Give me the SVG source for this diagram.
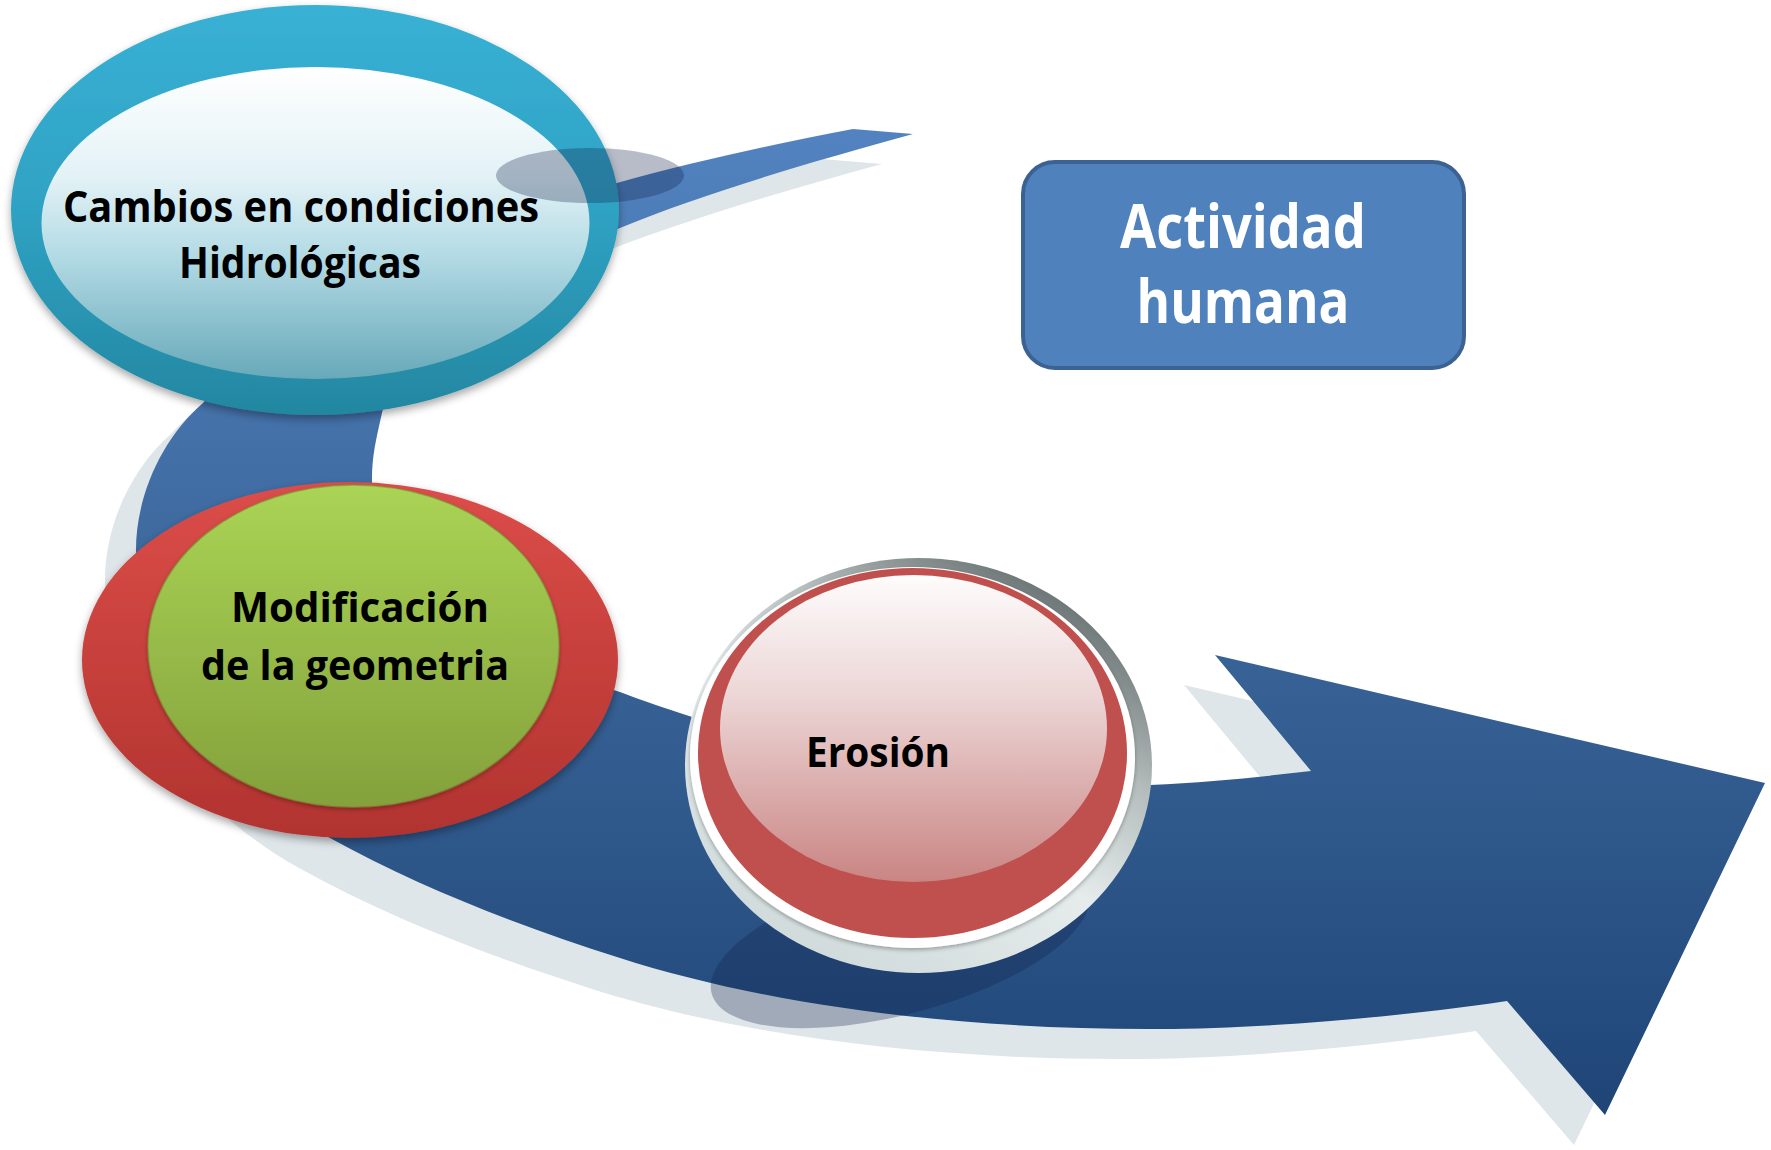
<svg xmlns="http://www.w3.org/2000/svg" width="1771" height="1150" viewBox="0 0 1771 1150">
  <style>
    .lbl { font-family: "Open Sans", Lato, "Liberation Sans", sans-serif; font-weight: bold; fill: #000000; text-anchor: middle; }
    .lblw { font-family: "Open Sans", Lato, "Liberation Sans", sans-serif; font-weight: bold; fill: #ffffff; text-anchor: middle; }
    .reflect { fill: #0f2048; fill-opacity: 0.3; }
  </style>
  <defs>
    <linearGradient id="bandG" gradientUnits="userSpaceOnUse" x1="0" y1="129" x2="0" y2="1115">
      <stop offset="0" stop-color="#5283c0"/>
      <stop offset="0.5" stop-color="#3a6599"/>
      <stop offset="1" stop-color="#1f4577"/>
    </linearGradient>
    <linearGradient id="ringBlue" x1="0" y1="0" x2="0" y2="1">
      <stop offset="0" stop-color="#38b1d5"/>
      <stop offset="0.5" stop-color="#2fa2c3"/>
      <stop offset="1" stop-color="#2387a1"/>
    </linearGradient>
    <linearGradient id="innerBlue" x1="0" y1="0" x2="0" y2="1">
      <stop offset="0" stop-color="#ffffff"/>
      <stop offset="0.35" stop-color="#e3f2f6"/>
      <stop offset="0.6" stop-color="#b4dbe5"/>
      <stop offset="1" stop-color="#68a9b9"/>
    </linearGradient>
    <linearGradient id="redG" x1="0" y1="0" x2="0" y2="1">
      <stop offset="0" stop-color="#dc4d49"/>
      <stop offset="1" stop-color="#b1332f"/>
    </linearGradient>
    <linearGradient id="greenG" x1="0" y1="0" x2="0" y2="1">
      <stop offset="0" stop-color="#aad455"/>
      <stop offset="1" stop-color="#84a13c"/>
    </linearGradient>
    <linearGradient id="frameG" x1="0.85" y1="0.05" x2="0.2" y2="1">
      <stop offset="0" stop-color="#5e6767"/>
      <stop offset="0.3" stop-color="#b4bcbc"/>
      <stop offset="0.55" stop-color="#e6ecec"/>
      <stop offset="1" stop-color="#cdd8d8"/>
    </linearGradient>
    <linearGradient id="pinkG" x1="0" y1="0" x2="0" y2="1">
      <stop offset="0" stop-color="#fefcfc"/>
      <stop offset="0.4" stop-color="#ecd5d5"/>
      <stop offset="1" stop-color="#c98583"/>
    </linearGradient>
    <filter id="shadow" x="-10%" y="-10%" width="120%" height="130%">
      <feDropShadow dx="0" dy="4" stdDeviation="4" flood-color="#000000" flood-opacity="0.35"/>
    </filter>
    <filter id="shadowSoft" x="-10%" y="-10%" width="120%" height="130%">
      <feDropShadow dx="0" dy="2" stdDeviation="2" flood-color="#000000" flood-opacity="0.3"/>
    </filter>
  </defs>

  <g id="connectors">
    <path id="swoosh-shadow" fill="#dfe6e9" transform="translate(-31,30)" d="M 853,129 L 913,134 C 800,165 700,195 620,228 C 520,270 395,340 382,413 C 376,440 372,455 372,480 C 372,580 480,650 620,692 C 700,722 900,790 1150,785 C 1210,782 1260,777 1311,771 L 1215,655 L 1765,783 L 1605,1115 L 1507,1001 C 1400,1017 1260,1029 1160,1029 C 950,1030 760,1003 620,958 C 520,926 420,888 330,838 C 230,782 138,680 136,553 C 135,500 160,440 203,403 C 250,350 450,222 617,183 C 700,160 780,143 853,129 Z"/>
    <path id="swoosh" fill="url(#bandG)" d="M 853,129 L 913,134 C 800,165 700,195 620,228 C 520,270 395,340 382,413 C 376,440 372,455 372,480 C 372,580 480,650 620,692 C 700,722 900,790 1150,785 C 1210,782 1260,777 1311,771 L 1215,655 L 1765,783 L 1605,1115 L 1507,1001 C 1400,1017 1260,1029 1160,1029 C 950,1030 760,1003 620,958 C 520,926 420,888 330,838 C 230,782 138,680 136,553 C 135,500 160,440 203,403 C 250,350 450,222 617,183 C 700,160 780,143 853,129 Z"/>
  </g>

  <g id="node-cambios">
    <ellipse cx="315" cy="210" rx="304" ry="205" fill="url(#ringBlue)" filter="url(#shadow)"/>
    <ellipse cx="315.5" cy="223" rx="274" ry="156" fill="url(#innerBlue)"/>
    <text class="lbl" x="301" y="222" font-size="43" textLength="476" lengthAdjust="spacingAndGlyphs">Cambios en condiciones</text>
    <text class="lbl" x="300" y="278" font-size="43" textLength="242" lengthAdjust="spacingAndGlyphs">Hidrológicas</text>
  </g>
  <ellipse id="reflection-top" class="reflect" cx="590" cy="175.5" rx="94" ry="27.5"/>

  <g id="node-modificacion">
    <ellipse cx="350" cy="660" rx="268" ry="178" fill="url(#redG)" filter="url(#shadow)"/>
    <ellipse cx="353.5" cy="646" rx="205.5" ry="161" fill="url(#greenG)" stroke="#7a9636" stroke-opacity="0.6" stroke-width="1.5" filter="url(#shadowSoft)"/>
    <text class="lbl" x="360" y="622" font-size="42" textLength="258" lengthAdjust="spacingAndGlyphs">Modificación</text>
    <text class="lbl" x="355" y="680" font-size="42" textLength="308" lengthAdjust="spacingAndGlyphs">de la geometria</text>
  </g>

  <ellipse id="reflection-erosion" class="reflect" cx="900" cy="943" rx="195" ry="71" transform="rotate(-15 900 943)"/>

  <g id="node-erosion">
    <ellipse cx="918.5" cy="765.5" rx="233.5" ry="207.5" fill="url(#frameG)"/>
    <ellipse cx="912.5" cy="757.5" rx="222.5" ry="190.5" fill="#ffffff" filter="url(#shadowSoft)"/>
    <ellipse cx="912.5" cy="753" rx="214.5" ry="185" fill="#c0504d"/>
    <ellipse cx="913.5" cy="728.5" rx="193.5" ry="153.5" fill="url(#pinkG)"/>
    <text class="lbl" x="878" y="767" font-size="42" textLength="144" lengthAdjust="spacingAndGlyphs">Erosión</text>
  </g>

  <g id="node-actividad">
    <rect x="1023" y="162" width="441" height="206" rx="32" ry="32" fill="#4f81bd" stroke="#3b6293" stroke-width="4"/>
    <text class="lblw" x="1243" y="248" font-size="61" textLength="246" lengthAdjust="spacingAndGlyphs">Actividad</text>
    <text class="lblw" x="1243" y="323" font-size="61" textLength="213" lengthAdjust="spacingAndGlyphs">humana</text>
  </g>
</svg>
